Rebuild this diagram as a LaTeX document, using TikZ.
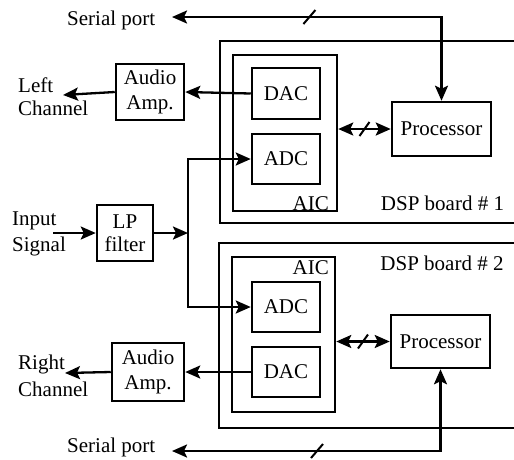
\documentclass[tikz,border=0pt]{standalone}
\usepackage{fontspec}
\setmainfont{Liberation Serif}
\usetikzlibrary{arrows.meta,calc}
\begin{document}
\begin{tikzpicture}[x=1pt,y=-1pt,
  every node/.style={font=\fontsize{21}{24}\selectfont},
  blk/.style={draw,line width=2.5pt,inner sep=0pt,align=center},
  lbl/.style={inner sep=0pt},
  board/.style={line width=2.5pt},
  conn/.style={line width=2.3pt,-{Stealth[length=15pt,width=13pt,inset=3pt]}},
  bus/.style={line width=2.3pt,{Stealth[length=15pt,width=13pt,inset=3pt]}-{Stealth[length=15pt,width=13pt,inset=3pt]}},
  slash/.style={line width=2pt}
]
\useasboundingbox (0,0) rectangle (514,459);

% DSP boards (open at the right)
\draw[board] (514,41) -- (220,41) -- (220,223) -- (514,223);
\draw[board] (514,243) -- (219,243) -- (219,428) -- (514,428);
\node[lbl] (b1) at (442.5,203) {DSP board \# 1};
\node[lbl] (b2) at (442,263) {DSP board \# 2};

% board 1
\node[blk,minimum width=104pt,minimum height=156pt] (aic1) at (285,133) {};
\node[lbl,anchor=south east] (aic1l) at (329,211) {AIC};
\node[blk,minimum width=68pt,minimum height=51pt] (dac1) at (286,93.5) {DAC};
\node[blk,minimum width=68pt,minimum height=50pt] (adc1) at (286,159) {ADC};
\node[blk,minimum width=99pt,minimum height=54pt] (proc1) at (441.5,129) {Processor};
\node[blk,minimum width=68pt,minimum height=56pt,font=\fontsize{21}{25}\selectfont] (amp1) at (150,92) {Audio\\Amp.};
\node[lbl,anchor=west,align=left,font=\fontsize{21}{23}\selectfont] (lch) at (18,97) {Left\\Channel};
\node[lbl,anchor=west] (sp1) at (67,20) {Serial port};

% board 2
\node[blk,minimum width=103pt,minimum height=155pt] (aic2) at (283.5,334.5) {};
\node[lbl,anchor=north east] (aic2l) at (329,260) {AIC};
\node[blk,minimum width=68pt,minimum height=50pt] (adc2) at (286,307) {ADC};
\node[blk,minimum width=68pt,minimum height=50pt] (dac2) at (286,372) {DAC};
\node[blk,minimum width=99pt,minimum height=53pt] (proc2) at (440.5,341.5) {Processor};
\node[blk,minimum width=72pt,minimum height=58pt,font=\fontsize{21}{25}\selectfont] (amp2) at (148,372) {Audio\\Amp.};
\node[lbl,anchor=west,align=left,font=\fontsize{21}{27}\selectfont] (rch) at (18,376) {Right\\Channel};
\node[lbl,anchor=west] (sp2) at (67,447) {Serial port};

% input side
\node[blk,minimum width=56pt,minimum height=56pt,font=\fontsize{21}{23}\selectfont] (lp) at (125,233) {LP\\filter};
\node[lbl,anchor=west,align=left,font=\fontsize{21}{26}\selectfont] (inp) at (12,233.5) {Input\\Signal};

% coordinates
\coordinate (inS) at (53,233);
\coordinate (j) at (188,233);
\coordinate (lT) at (63,95);
\coordinate (rT) at (65,373);
\coordinate (sp1T) at (172,17);
\coordinate (sp2T) at (172,451);

% connectors
\draw[conn] (inS) -- (lp.west);
\draw[conn] (lp.east) -- (j);
\draw[conn] (j) |- (adc1.west);
\draw[conn] (j) |- (adc2.west);
\draw[conn] (dac1.west) -- (amp1.east);
\draw[conn] (amp1.west) -- (lT);
\draw[conn] (dac2.west) -- (amp2.east);
\draw[conn] (amp2.west) -- (rT);
\draw[bus] (proc1.north) |- coordinate[pos=0.745] (s1) (sp1T);
\draw[bus] (proc2.south) |- coordinate[pos=0.73] (s2) (sp2T);
\draw[bus] (aic1.east |- proc1.west) -- coordinate (s3) (proc1.west);
\draw[bus] (aic2.east |- proc2.west) -- coordinate (s4) (proc2.west);

% bus slashes
\draw[slash] ($(s1)+(-6,7)$) -- ($(s1)+(6,-7)$);
\draw[slash] ($(s2)+(-6,7)$) -- ($(s2)+(6,-7)$);
\draw[slash] ($(s3)+(-5,7)$) -- ($(s3)+(5,-7)$);
\draw[slash] ($(s4)+(-5,7)$) -- ($(s4)+(5,-7)$);
\end{tikzpicture}
\end{document}
